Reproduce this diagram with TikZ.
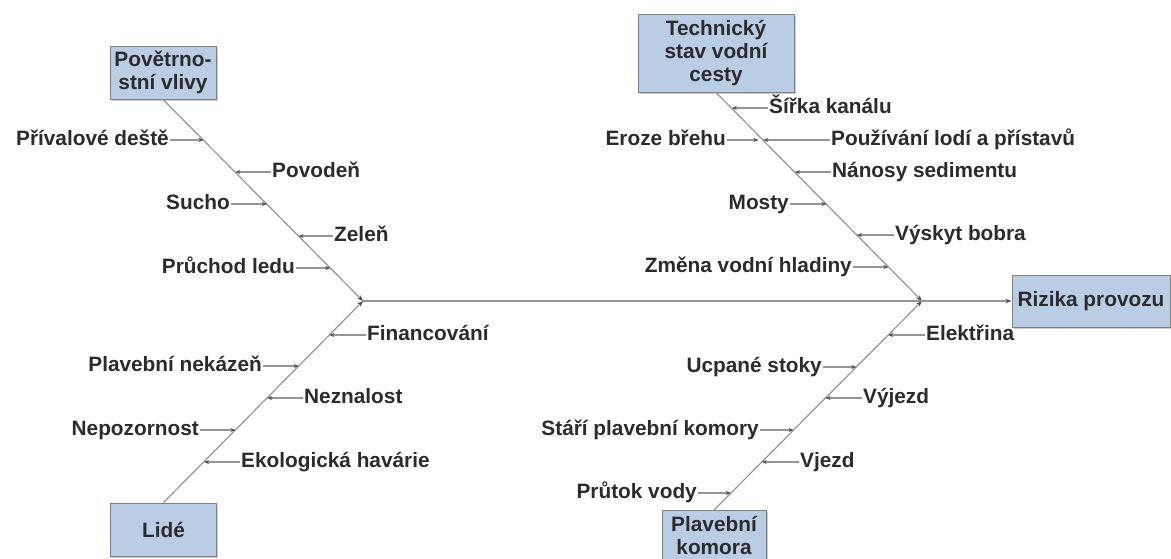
\documentclass[tikz,border=0pt]{standalone}
\usepackage{fontspec}
\setmainfont{Liberation Sans}
\usetikzlibrary{arrows.meta,shadows}
\definecolor{boxfill}{HTML}{B9CDE5}
\definecolor{boxline}{HTML}{808080}
\definecolor{bone}{HTML}{959595}
\definecolor{tipc}{HTML}{505050}
\definecolor{txt}{HTML}{2B2B2B}
\begin{document}
\begin{tikzpicture}[x=1pt,y=-1pt,
  font=\fontsize{20.8}{23}\selectfont\bfseries, text=txt,
  catbox/.style={draw=boxline, line width=1pt, fill=boxfill, align=center, inner sep=0pt,
    drop shadow={shadow xshift=1.5pt,shadow yshift=-1.5pt,fill=black!40,opacity=0.5}},
  lbl/.style={inner sep=1pt, text height=15pt, text depth=5pt},
  bonestyle/.style={draw=bone, line width=1.2pt, -{Stealth[length=6pt,width=4.5pt,color=tipc]}},
  feed/.style={draw=bone, line width=1.1pt, -{Stealth[length=5pt,width=4pt,color=tipc]}}
]
\useasboundingbox (0,0) rectangle (1171,558);
\clip (0,0) rectangle (1171,558);

% category boxes
\node[catbox, minimum width=106pt, minimum height=53pt] (P) at (163,72.5) {Povětrno-\\stní vlivy};
\node[catbox, minimum width=106pt, minimum height=53pt] (L) at (163.5,529.5) {Lidé};
\node[catbox, minimum width=156pt, minimum height=78pt] (T) at (716,53) {Technický\\stav vodní\\cesty};
\node[catbox, minimum width=158pt, minimum height=52pt] (R) at (1091,301) {Rizika provozu};
\node[catbox, minimum width=104pt, minimum height=50pt, anchor=north] (K) at (714,510) {Plavební\\komora};

% apexes
\coordinate (A1) at (363,301);
\coordinate (A2) at (922,301);

% bones and spine
\draw[bonestyle] (P.south) -- (A1);
\draw[bonestyle] (L.north) -- (A1);
\draw[bonestyle] (T.south) -- (A2);
\draw[bonestyle] (K.north) -- (A2);
\draw[bonestyle] (A1) -- (R.west);

% Povetrnostni vlivy
\node[lbl, anchor=east] (a1) at (170,140) {Přívalové deště};
\coordinate (ta1) at (203.6,140);
\node[lbl, anchor=west] (a2) at (271,172) {Povodeň};
\coordinate (ta2) at (235.3,172);
\node[lbl, anchor=east] (a3) at (231,204) {Sucho};
\coordinate (ta3) at (267,204);
\node[lbl, anchor=west] (a4) at (333,236) {Zeleň};
\coordinate (ta4) at (298.6,236);
\node[lbl, anchor=east] (a5) at (296,268) {Průchod ledu};
\coordinate (ta5) at (330.3,268);
\foreach \i in {1,...,5} {\draw[feed] (a\i) -- (ta\i);}

% Lide
\node[lbl, anchor=west] (b1) at (366,335) {Financování};
\coordinate (tb1) at (329.4,335);
\node[lbl, anchor=east] (b2) at (263,366) {Plavební nekázeň};
\coordinate (tb2) at (298.8,366);
\node[lbl, anchor=west] (b3) at (303,398) {Neznalost};
\coordinate (tb3) at (267.2,398);
\node[lbl, anchor=east] (b4) at (200,430) {Nepozornost};
\coordinate (tb4) at (235.6,430);
\node[lbl, anchor=west] (b5) at (240,462) {Ekologická havárie};
\coordinate (tb5) at (204,462);
\foreach \i in {1,...,5} {\draw[feed] (b\i) -- (tb\i);}

% Technicky stav vodni cesty
\node[lbl, anchor=west] (c1) at (768,108) {Šířka kanálu};
\coordinate (tc1) at (731.8,108);
\node[lbl, anchor=east] (c2) at (727,140) {Eroze břehu};
\coordinate (tc2) at (758.5,140);
\node[lbl, anchor=west] (c3) at (830,140) {Používání lodí a přístavů};
\coordinate (tc3) at (763.3,140);
\node[lbl, anchor=west] (c4) at (831,172) {Nánosy sedimentu};
\coordinate (tc4) at (794.9,172);
\node[lbl, anchor=east] (c5) at (790,204) {Mosty};
\coordinate (tc5) at (826.4,204);
\node[lbl, anchor=west] (c6) at (894,235) {Výskyt bobra};
\coordinate (tc6) at (856.9,235);
\node[lbl, anchor=east] (c7) at (853,267) {Změna vodní hladiny};
\coordinate (tc7) at (888.5,267);
\foreach \i in {1,...,7} {\draw[feed] (c\i) -- (tc\i);}

% Plavebni komora
\node[lbl, anchor=west] (d1) at (925,335) {Elektřina};
\coordinate (td1) at (888.2,335);
\node[lbl, anchor=east] (d2) at (823,367) {Ucpané stoky};
\coordinate (td2) at (856.3,367);
\node[lbl, anchor=west] (d3) at (862,398) {Výjezd};
\coordinate (td3) at (825.5,398);
\node[lbl, anchor=east] (d4) at (760,430) {Stáří plavební komory};
\coordinate (td4) at (793.6,430);
\node[lbl, anchor=west] (d5) at (799,462) {Vjezd};
\coordinate (td5) at (761.8,462);
\node[lbl, anchor=east] (d6) at (698,493) {Průtok vody};
\coordinate (td6) at (730.9,493);
\foreach \i in {1,...,6} {\draw[feed] (d\i) -- (td\i);}
\end{tikzpicture}
\end{document}
